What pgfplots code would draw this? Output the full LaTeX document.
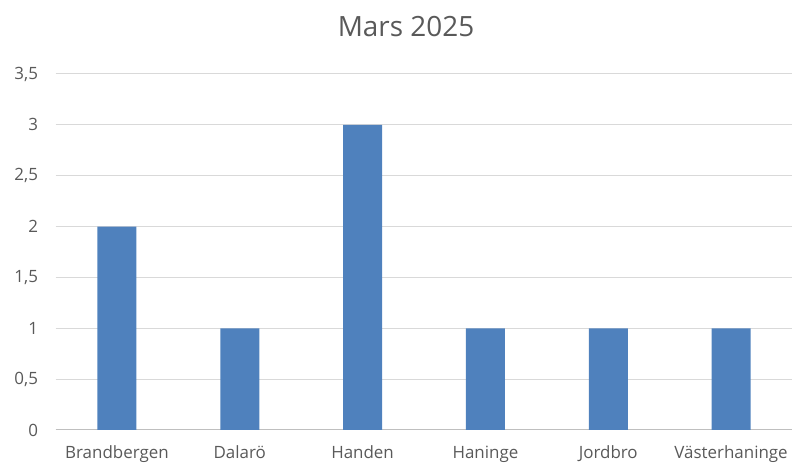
\documentclass[border=0pt]{standalone}
\usepackage{pgfplots}
\pgfplotsset{compat=1.18}
\usepackage{fontspec}
\setmainfont{Open Sans}
\definecolor{barblue}{HTML}{4F81BD}
\definecolor{txt}{HTML}{595959}
\definecolor{gridc}{HTML}{D9D9D9}
\definecolor{basec}{HTML}{BFBFBF}
\begin{document}
\begin{tikzpicture}[x=1bp,y=1bp]
\useasboundingbox (0,0) rectangle (792,465);
\clip (0,0) rectangle (792,465);
\begin{axis}[
  at={(55.5bp,35bp)}, anchor=south west,
  scale only axis, width=737bp, height=356bp,
  xmin=-0.5, xmax=5.5, ymin=0, ymax=3.5,
  axis x line*=bottom, axis y line*=left,
  x axis line style={basec, line width=1pt, -},
  y axis line style={draw=none},
  ymajorgrids, grid style={gridc, line width=1pt},
  xtick={0,1,2,3,4,5},
  xticklabels={Brandbergen,Dalarö,Handen,Haninge,Jordbro,Västerhaninge},
  ytick={0,0.5,1,1.5,2,2.5,3,3.5},
  yticklabels={0,{0,5},1,{1,5},2,{2,5},3,{3,5}},
  major tick length=0pt,
  tick label style={font=\fontsize{17}{20}\selectfont, text=txt},
  yticklabel style={anchor=east, xshift=-14bp},
  xticklabel style={anchor=base, yshift=-29bp},
  ybar, bar width=39bp,
  clip=false,
]
\addplot[fill=barblue, draw=none] coordinates {(0,2) (1,1) (2,3) (3,1) (4,1) (5,1)};
\end{axis}
\node[text=txt, font=\fontsize{28}{32}\selectfont] at (406,438) {Mars 2025};
\end{tikzpicture}
\end{document}
